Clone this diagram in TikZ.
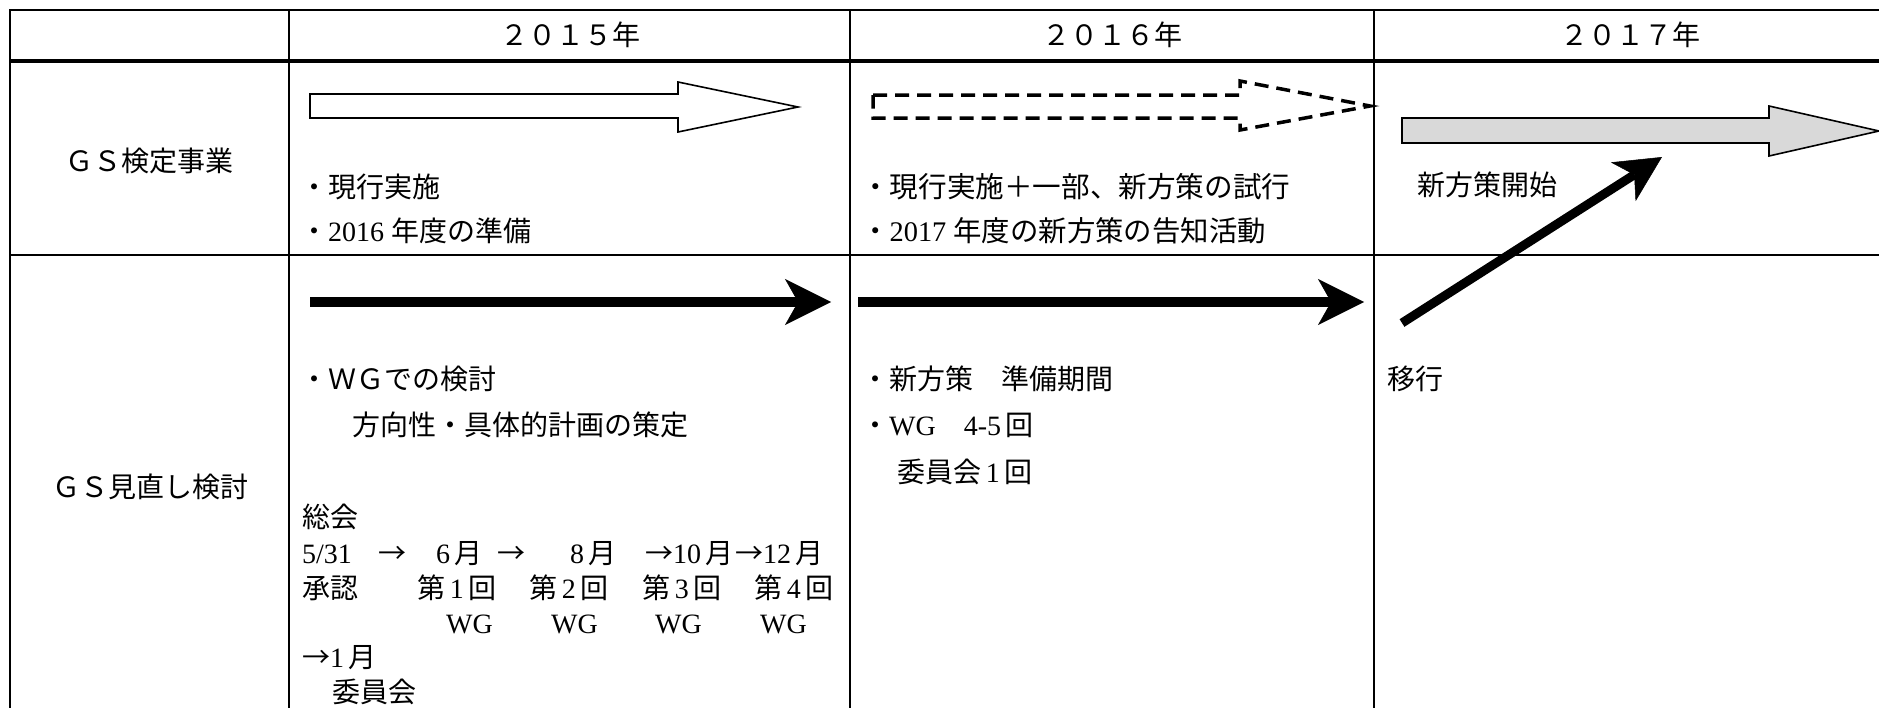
\documentclass[tikz,border=0pt]{standalone}
\usepackage{fontspec}
\setmainfont{Liberation Serif}
\newfontfamily\jp{Noto Sans CJK JP}
\usetikzlibrary{arrows.meta}
\begin{document}
\begin{tikzpicture}[x=1pt,y=-1pt,
  gridline/.style={line width=2.6pt, black},
  thickgridline/.style={line width=4.5pt, black},
  txt/.style={inner sep=0pt, anchor=west, text height=24.6pt, text depth=3.4pt,
    font=\fontsize{28pt}{34pt}\selectfont},
  ctxt/.style={txt, anchor=center},
  blockarrow/.style={draw=black, line width=1.6pt, line join=miter},
  flow/.style={line width=10.5pt,
    -{Stealth[length=46pt, width=46pt, inset=13pt, line width=0.5pt]}},
]
\useasboundingbox (0,0) rectangle (1879,707);
\fill[white] (0,0) rectangle (1879,707);
% grid
\draw[gridline] (9,10) -- (1895,10);
\draw[thickgridline] (9,61) -- (1895,61);
\draw[gridline] (9,255) -- (1895,255);
\draw[gridline] (10,9) -- (10,720);
\draw[gridline] (289,9) -- (289,720);
\draw[gridline] (850,9) -- (850,720);
\draw[gridline] (1374,9) -- (1374,720);
% headers
\node[ctxt] (h15) at (570,35) {\jp ２０１５年};
\node[ctxt] (h16) at (1112,35) {\jp ２０１６年};
\node[ctxt] (h17) at (1630,35) {\jp ２０１７年};
% row labels
\node[ctxt] (lab1) at (149,161) {\jp ＧＳ検定事業};
\node[ctxt] (lab2) at (150,487) {\jp ＧＳ見直し検討};
% block arrows row 1
\draw[blockarrow, fill=white] (310,94) -- (678,94) -- (678,82) -- (798,107) -- (678,132) -- (678,118) -- (310,118) -- cycle;
\draw[blockarrow, line width=3.5pt, dash pattern=on 14pt off 8pt] (873,95) -- (1240,95) -- (1240,81) -- (1370,106) -- (1240,130) -- (1240,118) -- (873,118) -- cycle;
\draw[blockarrow, fill={rgb,255:red,217;green,217;blue,217}] (1402,118) -- (1769,118) -- (1769,106) -- (1879,131) -- (1769,156) -- (1769,143) -- (1402,143) -- cycle;
% row 1 texts
\node[txt] (t11) at (300,187) {\jp ・現行実施};
\node[txt] (t12) at (300,231) {{\jp ・}2016 {\jp 年度の準備}};
\node[txt, font=\fontsize{28.6pt}{34pt}\selectfont] (t21) at (861,187) {\jp ・現行実施＋一部、新方策の試行};
\node[txt, font=\fontsize{28.4pt}{34pt}\selectfont] (t22) at (861,231) {{\jp ・}2017 {\jp 年度の新方策の告知活動}};
\node[txt] (t31) at (1417,185) {\jp 新方策開始};
% row 2 arrows
\coordinate (a1s) at (310,302);
\coordinate (a1e) at (831,302);
\coordinate (a2s) at (858,302);
\coordinate (a2e) at (1364,302);
\coordinate (a3s) at (1402,323);
\coordinate (a3e) at (1662,157);
\draw[flow] (a1s) -- (a1e);
\draw[flow] (a2s) -- (a2e);
\draw[flow, line width=9pt] (a3s) -- (a3e);
% row 2 texts
\node[txt] (u11) at (300,379) {\jp ・ＷＧでの検討};
\node[txt] (u12) at (352,425) {\jp 方向性・具体的計画の策定};
\node[txt] (u21) at (861,379) {\jp ・新方策　準備期間};
\node[txt] (u22) at (861,425) {{\jp ・}WG{\jp 　}4-5\,{\jp 回}};
\node[txt] (u23) at (897,472) {{\jp 委員会}\,1\,{\jp 回}};
\node[txt] (u31) at (1387,379) {\jp 移行};
% schedule block
\node[txt] (s0) at (302,517) {\jp 総会};
\node[txt] (s1a) at (302,553) {5/31};
\node[txt] (s1b) at (378,553) {\jp →};
\node[txt] (s1c) at (436,553) {6\,{\jp 月}};
\node[txt] (s1d) at (497,553) {\jp →};
\node[txt] (s1e) at (570,553) {8\,{\jp 月}};
\node[txt] (s1f) at (645,553) {{\jp →}10\,{\jp 月}};
\node[txt] (s1g) at (735,553) {{\jp →}12\,{\jp 月}};
\node[txt] (s2a) at (302,588) {\jp 承認};
\node[txt] (s2b) at (417,588) {{\jp 第}\,1\,{\jp 回}};
\node[txt] (s2c) at (529,588) {{\jp 第}\,2\,{\jp 回}};
\node[txt] (s2d) at (642,588) {{\jp 第}\,3\,{\jp 回}};
\node[txt] (s2e) at (754,588) {{\jp 第}\,4\,{\jp 回}};
\node[txt] (s3a) at (446,623) {WG};
\node[txt] (s3b) at (551,623) {WG};
\node[txt] (s3c) at (655,623) {WG};
\node[txt] (s3d) at (760,623) {WG};
\node[txt] (s4) at (302,657) {{\jp →}1\,{\jp 月}};
\node[txt] (s5) at (332,692) {\jp 委員会};
\end{tikzpicture}
\end{document}
